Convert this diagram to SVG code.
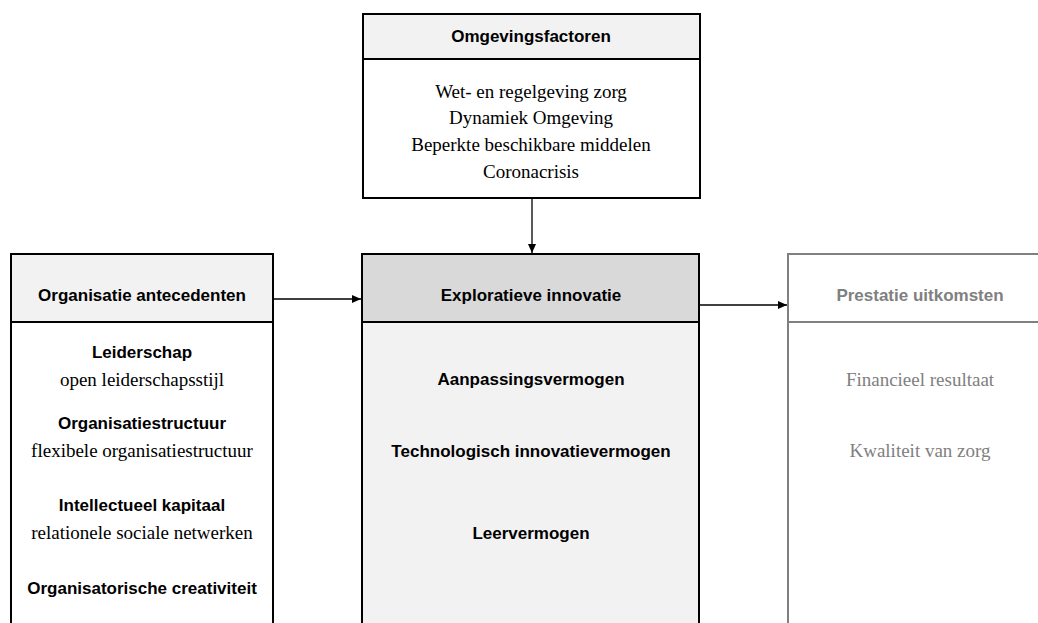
<svg xmlns="http://www.w3.org/2000/svg" width="1038" height="623" viewBox="0 0 1038 623">
<style>
.box{stroke:#000;stroke-width:2}
.gbox{stroke:#808080;stroke-width:2}
.h{font-family:"Liberation Sans",Arial,sans-serif;font-weight:bold;font-size:17px;text-anchor:middle;fill:#000}
.t{font-family:"Liberation Serif","Times New Roman",serif;font-size:19px;text-anchor:middle;fill:#000}
.gray{fill:#808080}
.conn{stroke:#000;stroke-width:1.3;fill:none}
</style>
<defs>
<marker id="ah" markerWidth="10" markerHeight="8" refX="9" refY="4" orient="auto" markerUnits="userSpaceOnUse">
<path d="M0,0 L9,4 L0,8 Z" fill="#000"/>
</marker>
</defs>
<rect width="1038" height="623" fill="#fff"/>
<g id="connectors">
<line class="conn" x1="532" y1="198" x2="532" y2="253" marker-end="url(#ah)"/>
<line class="conn" x1="273" y1="299" x2="361" y2="299" marker-end="url(#ah)"/>
<line class="conn" x1="699" y1="305" x2="787" y2="305" marker-end="url(#ah)"/>
</g>
<g id="omgevingsfactoren">
<rect class="box" x="363" y="14" width="337" height="184" fill="#fff"/>
<rect class="box" x="363" y="14" width="337" height="45" fill="#f2f2f2"/>
<text class="h" x="531" y="42">Omgevingsfactoren</text>
<text class="t" x="531" y="98">Wet- en regelgeving zorg</text>
<text class="t" x="531" y="124">Dynamiek Omgeving</text>
<text class="t" x="531" y="151">Beperkte beschikbare middelen</text>
<text class="t" x="531" y="178">Coronacrisis</text>
</g>
<g id="organisatie">
<rect class="box" x="11" y="254" width="262" height="380" fill="#fff"/>
<rect class="box" x="11" y="254" width="262" height="68" fill="#f2f2f2"/>
<text class="h" x="142" y="301">Organisatie antecedenten</text>
<text class="h" x="142" y="358">Leiderschap</text>
<text class="t" x="142" y="386">open leiderschapsstijl</text>
<text class="h" x="142" y="429">Organisatiestructuur</text>
<text class="t" x="142" y="457">flexibele organisatiestructuur</text>
<text class="h" x="142" y="511">Intellectueel kapitaal</text>
<text class="t" x="142" y="539">relationele sociale netwerken</text>
<text class="h" x="142" y="594">Organisatorische creativiteit</text>
</g>
<g id="exploratieve">
<rect class="box" x="362" y="254" width="337" height="380" fill="#f2f2f2"/>
<rect class="box" x="362" y="254" width="337" height="68" fill="#d9d9d9"/>
<text class="h" x="531" y="301">Exploratieve innovatie</text>
<text class="h" x="531" y="385">Aanpassingsvermogen</text>
<text class="h" x="531" y="457">Technologisch innovatievermogen</text>
<text class="h" x="531" y="539">Leervermogen</text>
</g>
<g id="prestatie">
<rect class="gbox" x="788" y="254" width="270" height="380" fill="#fff"/>
<line class="gbox" x1="788" y1="322" x2="1058" y2="322"/>
<text class="h gray" x="920" y="301">Prestatie uitkomsten</text>
<text class="t gray" x="920" y="386">Financieel resultaat</text>
<text class="t gray" x="920" y="457">Kwaliteit van zorg</text>
</g>
</svg>
